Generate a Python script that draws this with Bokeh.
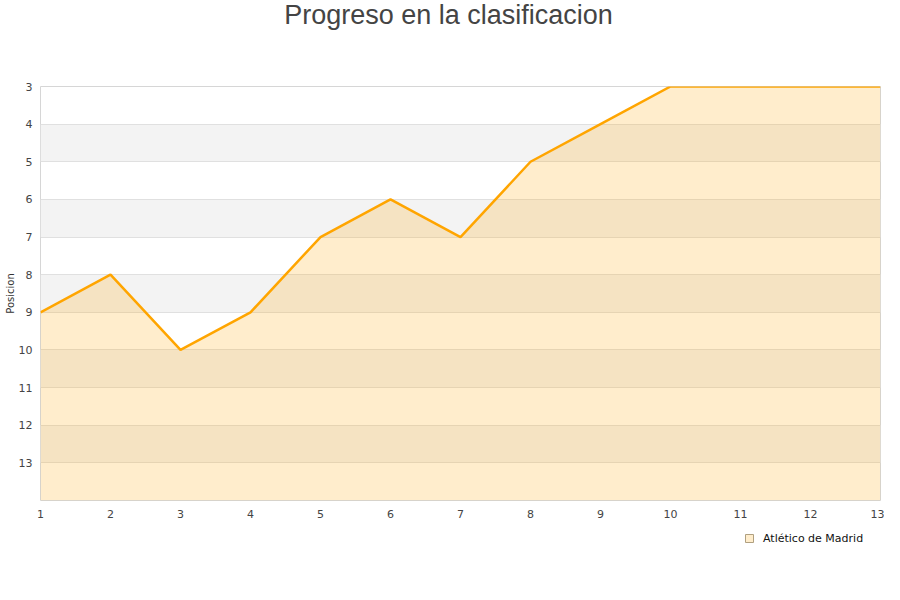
from bokeh.plotting import figure
from bokeh.layouts import column
from bokeh.models import (ColumnDataSource, FixedTicker, Legend, LegendItem, Range1d, Label)
from bokeh.embed import file_html
from bokeh.resources import INLINE

jornadas = [1, 2, 3, 4, 5, 6, 7, 8, 9, 10, 11, 12, 13]
posicion = [9, 8, 10, 9, 7, 6, 7, 5, 4, 3, 3, 3, 3]
y_ticks = [3, 4, 5, 6, 7, 8, 9, 10, 11, 12, 13]
team = "Atlético de Madrid"
title_text = "Progreso en la clasificacion"
y_title = "Posicion"
y_bottom = 14

W = 884

src = ColumnDataSource(dict(x=jornadas, y=posicion, base=[y_bottom] * len(jornadas)))

# ---- title strip ----
t = figure(width=W, height=76, min_border=0, x_axis_type=None, y_axis_type=None,
           x_range=Range1d(0, 1), y_range=Range1d(0, 1),
           output_backend="svg", toolbar_location=None)
t.outline_line_color = None
t.grid.visible = False
t.add_layout(Label(x=408, y=62, x_units="screen", y_units="screen", text=title_text,
                   text_align="center", text_baseline="alphabetic",
                   text_font="Liberation Sans", text_font_size="27px",
                   text_color="#444444"))

# ---- main chart ----
p = figure(frame_width=840, frame_height=414,
           min_border_left=40, min_border_right=4, min_border_top=10, min_border_bottom=24,
           x_range=Range1d(1, 13), y_range=Range1d(y_bottom, 3),
           output_backend="svg", toolbar_location=None)
p.background_fill_color = "white"
p.border_fill_color = "white"
p.outline_line_color = "#d6d6d6"
p.outline_line_width = 1

for ax in (p.xaxis, p.yaxis):
    ax.axis_line_color = None
    ax.major_tick_line_color = None
    ax.minor_tick_line_color = None
    ax.major_tick_out = 0
    ax.major_tick_in = 0
    ax.major_label_text_font = "DejaVu Sans"
    ax.major_label_text_font_size = "11px"
    ax.major_label_text_color = "#444444"
p.xaxis.ticker = FixedTicker(ticks=jornadas)
p.yaxis.ticker = FixedTicker(ticks=y_ticks)
p.xaxis.major_label_standoff = 9
p.yaxis.major_label_standoff = 8
p.yaxis.axis_label = y_title
p.yaxis.axis_label_standoff = 0
p.yaxis.axis_label_text_font = "DejaVu Sans"
p.yaxis.axis_label_text_font_size = "10px"
p.yaxis.axis_label_text_font_style = "normal"
p.yaxis.axis_label_text_color = "#333333"

p.xgrid.grid_line_color = None
p.ygrid.ticker = FixedTicker(ticks=y_ticks)
p.ygrid.grid_line_color = "#e0e0e0"
p.ygrid.grid_line_width = 1
p.ygrid.band_fill_color = "#f3f3f3"
p.ygrid.band_fill_alpha = 1.0

p.varea(x="x", y1="y", y2="base", source=src, fill_color="#ffa500", fill_alpha=0.2)
p.line(x="x", y="y", source=src, line_color="#ffa500", line_width=2.5)

# ---- legend strip ----
lg = figure(width=W, height=30, min_border=0, x_axis_type=None, y_axis_type=None,
            x_range=Range1d(0, 1), y_range=Range1d(0, 1),
            output_backend="svg", toolbar_location=None)
lg.outline_line_color = None
lg.grid.visible = False
leg_r = lg.scatter(x="x", y="y", source=src, marker="square", size=8,
                   fill_color="#ffedcc", line_color="#b0a080", line_width=1, visible=False)
legend = Legend(items=[LegendItem(label=team, renderers=[leg_r])],
                location=(699, 6), orientation="horizontal",
                glyph_width=20, glyph_height=20, label_height=20, label_standoff=4,
                padding=0, margin=0, spacing=0,
                border_line_color=None, background_fill_alpha=0,
                inactive_fill_alpha=0,
                label_text_font="DejaVu Sans", label_text_font_size="11px",
                label_text_color="#111111")
lg.add_layout(legend, "center")

layout = column(t, p, lg, spacing=0)
open("out.html", "w").write(file_html(layout, INLINE))
